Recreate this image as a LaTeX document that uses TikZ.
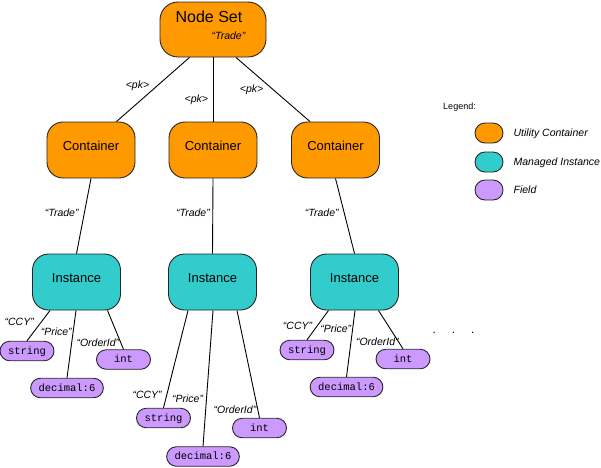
\documentclass[tikz,border=0pt]{standalone}
\usepackage{fontspec}
\setmainfont{Liberation Sans}
\setmonofont{Liberation Mono}
\usetikzlibrary{positioning}
\definecolor{utilorange}{HTML}{FF9900}
\definecolor{instcyan}{HTML}{33CCCC}
\definecolor{fieldlilac}{HTML}{CC99FF}
\tikzset{
  box/.style={draw=black!85,line width=0.9pt,rounded corners=16pt,minimum width=88pt,minimum height=56pt,inner sep=0pt,text height=9.5pt,text depth=9pt,font=\fontsize{13}{13}\selectfont},
  utility/.style={box,fill=utilorange},
  managed/.style={box,fill=instcyan},
  fieldbox/.style={draw=black!85,line width=0.9pt,fill=fieldlilac,rounded corners=9.75pt,minimum width=54pt,minimum height=19.5pt,inner xsep=8pt,inner ysep=0pt,text height=7pt,text depth=1pt,font=\ttfamily\fontsize{10.5}{10.5}\selectfont},
  keybox/.style={draw=black!85,line width=0.9pt,rounded corners=10pt,minimum width=28pt,minimum height=20pt,inner sep=0pt},
  lbl/.style={font=\itshape\fontsize{10.5}{10.5}\selectfont,inner sep=1pt,text depth=0pt},
  link/.style={line width=0.9pt}
}
\begin{document}
\begin{tikzpicture}[x=1pt,y=-1pt]
\useasboundingbox (0,0) rectangle (601,467);
% node set and containers
\node (ns) [utility,minimum width=106pt,minimum height=55pt,rounded corners=18pt] at (213,29.5) {};
\node (nstitle) [font=\fontsize{16}{16}\selectfont] at (209,17) {Node Set};
\node (nstag) [lbl] at (228.5,35.5) {“Trade”};
\node (c1) [utility] at (91,150) {Container};
\node (c2) [utility] at (213,150) {Container};
\node (c3) [utility] at (335.5,150) {Container};
% instances
\node (i1) [managed] at (76.5,282) {Instance};
\node (i2) [managed] at (212.5,282) {Instance};
\node (i3) [managed] at (354.5,282) {Instance};
% fields
\node (s1) [fieldbox] at (27,351) {string};
\node (d1) [fieldbox] at (67,388) {decimal:6};
\node (n1) [fieldbox] at (123.5,359.5) {int};
\node (s2) [fieldbox] at (163.5,418) {string};
\node (d2) [fieldbox] at (203,456.5) {decimal:6};
\node (n2) [fieldbox] at (259.5,428) {int};
\node (s3) [fieldbox] at (307,350) {string};
\node (d3) [fieldbox] at (346.5,387) {decimal:6};
\node (n3) [fieldbox] at (403,359) {int};
\draw [link] ([xshift=-23.5pt]ns.south) -- ([xshift=25.5pt]c1.north) node[lbl,pos=0.43,left=7.5pt] {<pk>};
\draw [link] (ns.south) -- (c2.north) node[lbl,pos=0.65,left=3.5pt] {<pk>};
\draw [link] ([xshift=23pt]ns.south) -- ([xshift=-25.5pt]c3.north) node[lbl,pos=0.49,left=7.5pt] {<pk>};
\draw [link] (c1.south) -- (i1.north) node[lbl,pos=0.45,left=4.5pt] {“Trade”};
\draw [link] (c2.south) -- (i2.north) node[lbl,pos=0.45,left=1.5pt] {“Trade”};
\draw [link] (c3.south) -- (i3.north) node[lbl,pos=0.45,left=4pt] {“Trade”};
\draw [link] ([xshift=-26.5pt]i1.south) -- (s1.north) node[lbl,pos=0.38,left=6pt] {“CCY”};
\draw [link] ([xshift=-0.5pt]i1.south) -- (d1.north) node[lbl,pos=0.32,left=0pt] {“Price”};
\draw [link] ([xshift=31pt]i1.south) -- (n1.north) node[lbl,pos=0.82,left=0pt] {“OrderId”};
\draw [link] ([xshift=-24.5pt]i2.south) -- (s2.north) node[lbl,pos=0.87,left=3.5pt] {“CCY”};
\draw [link] ([xshift=0.5pt]i2.south) -- (d2.north) node[lbl,pos=0.65,left=2pt] {“Price”};
\draw [link] ([xshift=24.5pt]i2.south) -- (n2.north) node[lbl,pos=0.92,left=0pt] {“OrderId”};
\draw [link] ([xshift=-26pt]i3.south) -- (s3.north) node[lbl,pos=0.51,left=4pt] {“CCY”};
\draw [link] ([xshift=0.5pt]i3.south) -- (d3.north) node[lbl,pos=0.28,left=0pt] {“Price”};
\draw [link] ([xshift=24pt]i3.south) -- (n3.north) node[lbl,pos=0.82,left=-1.5pt] {“OrderId”};
\node (more) [font=\fontsize{12}{12}\selectfont] at (453.5,333) {.\hspace{16pt}.\hspace{16pt}.};
% legend
\node (legend) [font=\fontsize{9}{9}\selectfont] at (459.5,107) {Legend:};
\node (k1) [keybox,fill=utilorange] at (489,133) {};
\node (k2) [keybox,fill=instcyan] at (489,162) {};
\node (k3) [keybox,fill=fieldlilac] at (489,190) {};
\node (k1txt) [lbl,right=9pt of k1] {Utility Container};
\node (k2txt) [lbl,right=9pt of k2] {Managed Instance};
\node (k3txt) [lbl,right=9pt of k3] {Field};
\end{tikzpicture}
\end{document}
